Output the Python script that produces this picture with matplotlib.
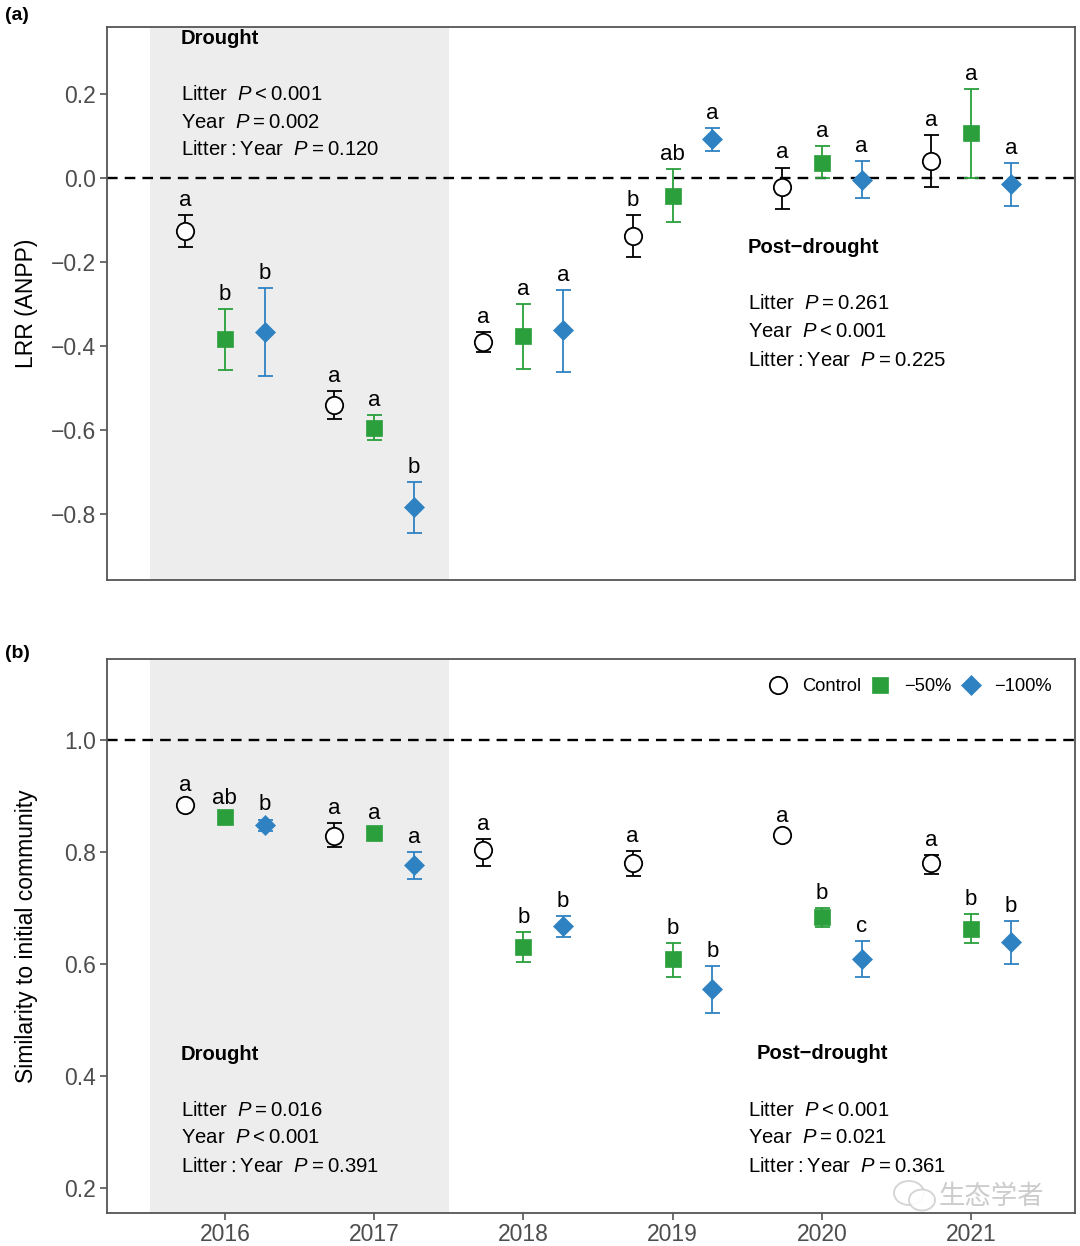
import matplotlib
matplotlib.use('Agg')
import matplotlib.pyplot as plt
from matplotlib.lines import Line2D
from matplotlib.patches import Ellipse

plt.rcParams['font.family'] = ['Liberation Sans', 'DejaVu Sans']
plt.rcParams['mathtext.fontset'] = 'custom'
plt.rcParams['mathtext.rm'] = 'Liberation Sans'
plt.rcParams['mathtext.it'] = 'Liberation Sans:italic'

years = [2016, 2017, 2018, 2019, 2020, 2021]
treatments = ['Control', '\u221250%', '\u2212100%']

# ---- Panel (a): LRR (ANPP) ----
anpp_ctrl = [-0.126, -0.540, -0.390, -0.137, -0.022, 0.040]
anpp_ctrl_lo = [-0.164, -0.574, -0.414, -0.189, -0.074, -0.021]
anpp_ctrl_hi = [-0.088, -0.507, -0.367, -0.088, 0.025, 0.102]
anpp_50 = [-0.383, -0.594, -0.376, -0.042, 0.036, 0.107]
anpp_50_lo = [-0.457, -0.624, -0.455, -0.104, -0.001, 0.001]
anpp_50_hi = [-0.312, -0.564, -0.300, 0.021, 0.076, 0.212]
anpp_100 = [-0.367, -0.783, -0.362, 0.093, -0.004, -0.014]
anpp_100_lo = [-0.471, -0.845, -0.462, 0.065, -0.048, -0.067]
anpp_100_hi = [-0.262, -0.724, -0.267, 0.118, 0.040, 0.036]
anpp_letters_ctrl = ['a', 'a', 'a', 'b', 'a', 'a']
anpp_letters_50 = ['b', 'a', 'a', 'ab', 'a', 'a']
anpp_letters_100 = ['b', 'b', 'a', 'a', 'a', 'a']

# ---- Panel (b): similarity to initial community ----
sim_ctrl = [0.884, 0.829, 0.804, 0.780, 0.830, 0.780]
sim_ctrl_lo = [0.876, 0.809, 0.775, 0.757, 0.822, 0.761]
sim_ctrl_hi = [0.892, 0.852, 0.823, 0.802, 0.838, 0.795]
sim_50 = [0.8625, 0.834, 0.630, 0.609, 0.684, 0.663]
sim_50_lo = [0.855, 0.826, 0.603, 0.577, 0.666, 0.6375]
sim_50_hi = [0.870, 0.842, 0.657, 0.638, 0.700, 0.689]
sim_100 = [0.848, 0.777, 0.668, 0.555, 0.609, 0.639]
sim_100_lo = [0.838, 0.752, 0.648, 0.5125, 0.577, 0.600]
sim_100_hi = [0.858, 0.800, 0.686, 0.596, 0.641, 0.677]
sim_letters_ctrl = ['a', 'a', 'a', 'a', 'a', 'a']
sim_letters_50 = ['ab', 'a', 'b', 'b', 'b', 'b']
sim_letters_100 = ['b', 'a', 'b', 'b', 'c', 'b']

anpp_stats_drought = [('<', '0.001'), ('=', '0.002'), ('=', '0.120')]
anpp_stats_post = [('=', '0.261'), ('<', '0.001'), ('=', '0.225')]
sim_stats_drought = [('=', '0.016'), ('<', '0.001'), ('=', '0.391')]
sim_stats_post = [('<', '0.001'), ('=', '0.021'), ('=', '0.361')]

GREEN = '#2a9f3b'
BLUE = '#2f82c2'
GREY_TXT = '#4d4d4d'
SPINE = '#555555'
dodge = 0.267
TS = '\u2009'

styles = {
    'Control': dict(marker='o', mfc='white', mec='black', ms=12.5, mew=1.3, ecolor='black'),
    '\u221250%': dict(marker='s', mfc=GREEN, mec=GREEN, ms=11, mew=0.5, ecolor=GREEN),
    '\u2212100%': dict(marker='D', mfc=BLUE, mec=BLUE, ms=10.5, mew=0.5, ecolor=BLUE),
}

fig = plt.figure(figsize=(10.8, 12.46), dpi=100)
ax_a = fig.add_axes([107/1080, 1-580/1246, 968/1080, 553/1246])
ax_b = fig.add_axes([107/1080, 1-1213/1246, 968/1080, 554/1246])


def draw_panel(ax, series, letters):
    ax.axvspan(2015.5, 2017.5, color='#ededed', zorder=0, lw=0)
    for k, (name, mean, lo, hi) in enumerate(series):
        st = styles[name]
        off = (k - 1) * dodge
        xs = [y + off for y in years]
        yerr = [[m - l for m, l in zip(mean, lo)], [h - m for m, h in zip(mean, hi)]]
        ax.errorbar(xs, mean, yerr=yerr, fmt='none', ecolor=st['ecolor'],
                    elinewidth=1.3, capsize=5.4, capthick=1.3, zorder=3)
        ax.plot(xs, mean, linestyle='none', marker=st['marker'], mfc=st['mfc'],
                mec=st['mec'], ms=st['ms'], mew=st['mew'], zorder=4)
        for x, h, lab in zip(xs, hi, letters[k]):
            ax.annotate(lab, (x, h), xytext=(0, 6.5), textcoords='offset points',
                        ha='center', va='baseline', fontsize=16, color='black', zorder=5)
    for s in ax.spines.values():
        s.set_color(SPINE)
        s.set_linewidth(1.3)
    ax.tick_params(axis='y', colors=SPINE, labelcolor=GREY_TXT, labelsize=16.5,
                   length=5, width=1.2, pad=3)
    ax.set_xlim(2015.21, 2021.697)


def stats_block(ax, x_title, x_lines, y_title, y_lines, title, stats):
    ax.text(x_title, y_title, title, transform=ax.transAxes, fontsize=14.5,
            fontweight='bold', ha='left', va='center')
    labels = ['Litter', 'Year', 'Litter' + TS + ':' + TS + 'Year']
    for lab, (op, val), yy in zip(labels, stats, y_lines):
        ax.text(x_lines, yy, lab + '  $P$' + TS + op + TS + val,
                transform=ax.transAxes, fontsize=14.6, ha='left', va='center')


# Panel (a)
draw_panel(ax_a, [('Control', anpp_ctrl, anpp_ctrl_lo, anpp_ctrl_hi),
                  ('\u221250%', anpp_50, anpp_50_lo, anpp_50_hi),
                  ('\u2212100%', anpp_100, anpp_100_lo, anpp_100_hi)],
           [anpp_letters_ctrl, anpp_letters_50, anpp_letters_100])
ax_a.axhline(0, color='black', ls=(0, (4.5, 3)), lw=1.7, zorder=2)
ax_a.set_ylim(-0.957, 0.3595)
ax_a.set_yticks([0.2, 0.0, -0.2, -0.4, -0.6, -0.8])
ax_a.set_yticklabels(['0.2', '0.0', '\u22120.2', '\u22120.4', '\u22120.6', '\u22120.8'])
ax_a.set_xticks([])
ax_a.set_ylabel('LRR (ANPP)', fontsize=16.5)
ax_a.yaxis.set_label_coords(-0.0715, 0.5)
stats_block(ax_a, 0.0764, 0.0764, 0.980, [0.8788, 0.8282, 0.7776], 'Drought', anpp_stats_drought)
stats_block(ax_a, 0.6622, 0.6622, 0.6004, [0.4991, 0.4485, 0.3978], 'Post\u2212drought', anpp_stats_post)

# Panel (b)
draw_panel(ax_b, [('Control', sim_ctrl, sim_ctrl_lo, sim_ctrl_hi),
                  ('\u221250%', sim_50, sim_50_lo, sim_50_hi),
                  ('\u2212100%', sim_100, sim_100_lo, sim_100_hi)],
           [sim_letters_ctrl, sim_letters_50, sim_letters_100])
ax_b.axhline(1.0, color='black', ls=(0, (4.5, 3)), lw=1.7, zorder=2)
ax_b.set_ylim(0.1554, 1.1446)
ax_b.set_yticks([0.2, 0.4, 0.6, 0.8, 1.0])
ax_b.set_yticklabels(['0.2', '0.4', '0.6', '0.8', '1.0'])
ax_b.set_xticks(years)
ax_b.set_xticklabels([str(y) for y in years])
ax_b.tick_params(axis='x', colors=SPINE, labelcolor=GREY_TXT, labelsize=16.5,
                 length=5, width=1.2, pad=2)
ax_b.set_ylabel('Similarity to initial community', fontsize=16.5)
ax_b.yaxis.set_label_coords(-0.0715, 0.5)
stats_block(ax_b, 0.0764, 0.0764, 0.2870, [0.1859, 0.1354, 0.0848], 'Drought', sim_stats_drought)
stats_block(ax_b, 0.6715, 0.6622, 0.2888, [0.1859, 0.1354, 0.0848], 'Post\u2212drought', sim_stats_post)

handles = [Line2D([], [], linestyle='none', marker=styles[t]['marker'], mfc=styles[t]['mfc'],
                  mec=styles[t]['mec'], ms=styles[t]['ms'], mew=styles[t]['mew'])
           for t in treatments]
ax_b.legend(handles, treatments, loc='center right', bbox_to_anchor=(0.984, 0.9495),
            ncol=3, frameon=False, fontsize=13.2, handletextpad=0.7, columnspacing=0.45,
            handlelength=1.2, borderaxespad=0)

# panel tags
fig.text(5/1080, 1-15/1246, '(a)', fontsize=14, fontweight='bold', ha='left', va='center')
fig.text(5/1080, 1-653/1246, '(b)', fontsize=14, fontweight='bold', ha='left', va='center')

# watermark (speech-bubble icon + text)
for cx, cy, w, h in [(909, 1193, 30, 24), (922, 1200, 26, 21)]:
    fig.patches.append(Ellipse((cx/1080, 1-cy/1246), w/1080, h/1246, transform=fig.transFigure,
                               facecolor='white', edgecolor='#cfcfcf', lw=1.3, alpha=0.9))
fig.text(991/1080, 1-1197/1246, '生态学者', fontsize=19, color='#cccccc',
         family=['Noto Sans CJK SC', 'DejaVu Sans'], ha='center', va='center')

fig.savefig('out.png', dpi=100)
